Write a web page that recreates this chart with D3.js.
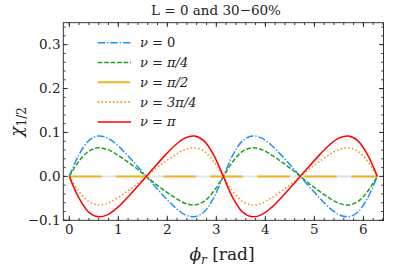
<!DOCTYPE html>
<html>
<head>
<meta charset="utf-8">
<script src="https://cdn.jsdelivr.net/npm/d3@7"></script>
<style>
  body { margin: 0; background: #fff; }
  text { font-family: "DejaVu Serif", serif; fill: #222; }
</style>
</head>
<body>
<svg width="407" height="268"></svg>
<script>
// data
var phi = [0, 0.196, 0.393, 0.589, 0.785, 0.982, 1.178, 1.374, 1.571,
           1.767, 1.963, 2.160, 2.356, 2.553, 2.749, 2.945, 3.142,
           3.338, 3.534, 3.731, 3.927, 4.123, 4.320, 4.516, 4.712,
           4.909, 5.105, 5.301, 5.498, 5.694, 5.890, 6.087, 6.283];
var nu0   = [0, 0.049, 0.081, 0.092, 0.087, 0.071, 0.049, 0.025, 0,
             -0.025, -0.049, -0.071, -0.087, -0.092, -0.081, -0.049, 0,
             0.049, 0.081, 0.092, 0.087, 0.071, 0.049, 0.025, 0,
             -0.025, -0.049, -0.071, -0.087, -0.092, -0.081, -0.049, 0];
var nuPi4 = [0, 0.034, 0.057, 0.065, 0.061, 0.049, 0.034, 0.018, 0,
             -0.018, -0.034, -0.049, -0.061, -0.065, -0.057, -0.034, 0,
             0.034, 0.057, 0.065, 0.061, 0.049, 0.034, 0.018, 0,
             -0.018, -0.034, -0.049, -0.061, -0.065, -0.057, -0.034, 0];
var nuPi2 = [0, 0, 0, 0, 0, 0, 0, 0, 0, 0, 0, 0, 0, 0, 0, 0, 0,
             0, 0, 0, 0, 0, 0, 0, 0, 0, 0, 0, 0, 0, 0, 0, 0];
var nu3Pi4 = [0, -0.034, -0.057, -0.065, -0.061, -0.049, -0.034, -0.018, 0,
              0.018, 0.034, 0.049, 0.061, 0.065, 0.057, 0.034, 0,
              -0.034, -0.057, -0.065, -0.061, -0.049, -0.034, -0.018, 0,
              0.018, 0.034, 0.049, 0.061, 0.065, 0.057, 0.034, 0];
var nuPi  = [0, -0.049, -0.081, -0.092, -0.087, -0.071, -0.049, -0.025, 0,
             0.025, 0.049, 0.071, 0.087, 0.092, 0.081, 0.049, 0,
             -0.049, -0.081, -0.092, -0.087, -0.071, -0.049, -0.025, 0,
             0.025, 0.049, 0.071, 0.087, 0.092, 0.081, 0.049, 0];
var labels = ["0", "π/4", "π/2", "3π/4", "π"];
var xTicks = [0, 1, 2, 3, 4, 5, 6];
var yTicks = [-0.1, 0.0, 0.1, 0.2, 0.3];

var series = [
  {vals: nu0,    color: "#1e90ff", dash: "7.5,1.9,1.3,1.9", width: 1.5},
  {vals: nuPi4,  color: "#1f9e1f", dash: "4.6,1.9",         width: 1.5},
  {vals: nuPi2,  color: "#f0b429", dash: "32.5,14.5",       width: 2},
  {vals: nu3Pi4, color: "#ff8c1a", dash: "1.5,2.3",         width: 1.6},
  {vals: nuPi,   color: "#ff0000", dash: null,              width: 1.5}
];

var svg = d3.select("svg");
var pLeft = 63.3, pRight = 383.5, pTop = 22.7, pBottom = 220.3;

var x = d3.scaleLinear().domain([-0.122, 6.41]).range([pLeft, pRight]);
var y = d3.scaleLinear().domain([-0.1, 0.35]).range([pBottom, pTop]);

var g = svg.append("g");

// light zero line under the curves
g.append("line")
  .attr("x1", x(0)).attr("x2", x(6.283))
  .attr("y1", y(0)).attr("y2", y(0))
  .attr("stroke", "#e4e4e4").attr("stroke-width", 2);

var line = d3.line()
  .x(function(d, i) { return x(phi[i]); })
  .y(function(d) { return y(d); })
  .curve(d3.curveCatmullRom);

series.forEach(function(s) {
  g.append("path")
    .attr("d", line(s.vals))
    .attr("fill", "none")
    .attr("stroke", s.color)
    .attr("stroke-width", s.width)
    .attr("stroke-dasharray", s.dash);
});

// frame and ticks (inward, all four sides)
var axes = svg.append("g").attr("stroke", "#222").attr("stroke-width", 0.9);
axes.append("rect")
  .attr("x", pLeft).attr("y", pTop)
  .attr("width", pRight - pLeft).attr("height", pBottom - pTop)
  .attr("fill", "none");

var xMinor = d3.range(0, 6.41, 0.2);
var yMinor = d3.range(-0.1, 0.351, 0.02);
function tickX(v, len) {
  axes.append("line").attr("x1", x(v)).attr("x2", x(v))
    .attr("y1", pBottom).attr("y2", pBottom - len);
  axes.append("line").attr("x1", x(v)).attr("x2", x(v))
    .attr("y1", pTop).attr("y2", pTop + len);
}
function tickY(v, len) {
  axes.append("line").attr("y1", y(v)).attr("y2", y(v))
    .attr("x1", pLeft).attr("x2", pLeft + len);
  axes.append("line").attr("y1", y(v)).attr("y2", y(v))
    .attr("x1", pRight).attr("x2", pRight - len);
}
xMinor.forEach(function(v) { tickX(v, 2.3); });
yMinor.forEach(function(v) { tickY(v, 2.3); });
xTicks.forEach(function(v) { tickX(v, 4.5); });
yTicks.forEach(function(v) { tickY(v, 4.5); });

var fmt = function(v) { return d3.format(".1f")(v).replace("-", "\u2212"); };
svg.selectAll(".xt").data(xTicks).enter().append("text")
  .attr("x", function(d) { return x(d); })
  .attr("y", 233.5)
  .attr("text-anchor", "middle")
  .style("font-size", "13.5px")
  .text(function(d) { return d; });
svg.selectAll(".yt").data(yTicks).enter().append("text")
  .attr("x", 60.5)
  .attr("y", function(d) { return y(d) + 4.8; })
  .attr("text-anchor", "end")
  .style("font-size", "13.5px")
  .text(fmt);

// title and axis labels
svg.append("text")
  .attr("x", 216).attr("y", 15)
  .attr("text-anchor", "middle")
  .style("font-size", "13.5px")
  .text("L = 0 and 30\u221260%");

var xl = svg.append("text")
  .attr("x", 222).attr("y", 260)
  .attr("text-anchor", "middle")
  .style("font-size", "17px");
xl.append("tspan").style("font-style", "italic").text("ϕ");
xl.append("tspan").attr("dy", 3.5).style("font-size", "12px").style("font-style", "italic").text("r");
xl.append("tspan").attr("dy", -3.5).text(" [rad]");

var yl = svg.append("text")
  .attr("transform", "translate(22,122) rotate(-90)")
  .attr("text-anchor", "middle")
  .style("font-size", "17px");
yl.append("tspan").style("font-style", "italic").text("χ");
yl.append("tspan").attr("dy", 3.5).style("font-size", "12px").text("1/2");

// legend
var leg = svg.append("g");
series.forEach(function(s, i) {
  var yy = 42.7 + i * 19.8;
  leg.append("line")
    .attr("x1", 97.7).attr("x2", 131)
    .attr("y1", yy).attr("y2", yy)
    .attr("stroke", s.color)
    .attr("stroke-width", s.width)
    .attr("stroke-dasharray", s.dash);
  var t = leg.append("text")
    .attr("x", 140).attr("y", yy + 4.5)
    .style("font-size", "13px");
  t.append("tspan").style("font-style", "italic").text("ν");
  t.append("tspan").text(" = ");
  t.append("tspan").style("font-style", labels[i] === "0" ? "normal" : "italic")
    .text(labels[i]);
});
</script>
</body>
</html>
